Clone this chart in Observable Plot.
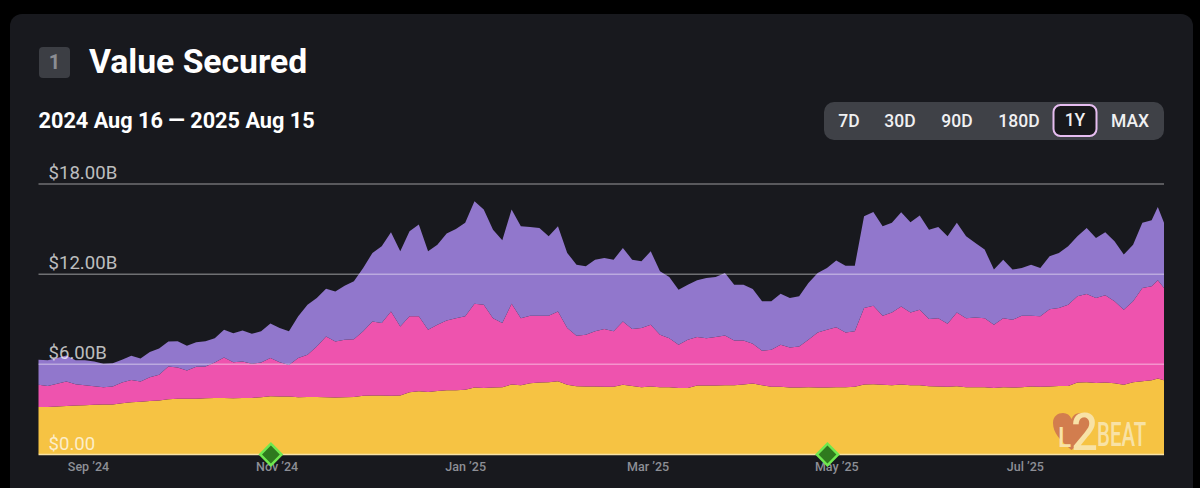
<!DOCTYPE html>
<html>
<head>
<meta charset="utf-8">
<script src="https://cdn.jsdelivr.net/npm/d3@7"></script>
<script src="https://cdn.jsdelivr.net/npm/@observablehq/plot@0.6"></script>
<style>
  html, body { margin: 0; background: #000; font-family: Roboto, sans-serif; overflow: hidden; }
  #card { position: absolute; left: 10px; top: 14px; width: 1183px; height: 474px; background: #18191e; border-radius: 12px 12px 0 0; }
  #badge { position: absolute; left: 29px; top: 33px; width: 31px; height: 31px; border-radius: 4px; background: #3c3e44; color: #8b8d93; font-size: 20px; font-weight: 700; line-height: 31px; text-align: center; }
  #title { position: absolute; left: 79px; top: 28px; color: #fff; font-size: 33.7px; font-weight: 700; line-height: 40px; white-space: nowrap; }
  #range { position: absolute; left: 28.5px; top: 93px; color: #fff; font-size: 21.7px; font-weight: 700; line-height: 28px; white-space: nowrap; }
  #buttons { position: absolute; left: 814px; top: 88px; width: 340px; height: 38px; background: #3f4147; border-radius: 10px; }
  #buttons span { position: absolute; top: 0; line-height: 38px; color: #f0f0f2; font-size: 17.5px; font-weight: 500; transform: translateX(-50%); white-space: nowrap; }
  #buttons span.on { top: 2px; height: 29px; line-height: 29px; width: 41px; text-align: center; background: #18181b; border: 2.5px solid #e6bdf0; border-radius: 8px; }
  #chart { position: absolute; left: 0; top: 160px; }
  #chart svg { display: block; overflow: visible; }
  #logo { position: absolute; left: 1040px; top: 400px; }
</style>
</head>
<body>
<div id="card">
  <div id="badge">1</div>
  <div id="title">Value Secured</div>
  <div id="range">2024 Aug 16 — 2025 Aug 15</div>
  <div id="buttons"></div>
</div>
<div id="chart"></div>
<svg id="logo" width="125" height="65" viewBox="0 0 125 65">
  <path d="M31.5 50 C20 40 13 33 13 23 C13 16 18 13 23 13 C27 13 30 15 31.5 19 C33 15 36 13 40 13 C45 13 50 16 50 23 C50 33 43 40 31.5 50 Z" fill="#d27d4e"/>
  <text transform="translate(18 47) scale(0.9 1)" font-family="Roboto" font-weight="500" fill="#f8e2a6"><tspan font-size="27">L</tspan><tspan font-size="52" dy="3">2</tspan></text>
  <text transform="translate(57 46) scale(0.62 1)" font-family="Roboto" font-weight="500" font-size="33" fill="#f8e2a6">BEAT</text>
</svg>
<script>
// days after 2024 Aug 16
const dayOffsets = [0,3,6,9,12,15,18,21,24,27,30,33,36,39,42,45,48,51,54,57,60,63,66,69,72,75,78,81,84,87,90,93,96,99,102,105,108,111,114,117,120,123,126,
  129,132,135,138,141,144,147,150,153,156,159,162,165,168,171,174,177,180,183,186,189,192,195,198,201,204,207,210,213,216,219,222,225,228,231,234,237,240,243,246,249,252,
  255,258,261,264,267,270,273,276,279,282,285,288,291,294,297,300,303,306,309,312,315,318,321,324,327,330,333,336,339,342,345,348,351,354,357,360,362,364]

// stacked tops in $B
const yellowTop = [3.13,3.13,3.16,3.20,3.22,3.24,3.27,3.29,3.29,3.38,3.44,3.47,3.53,3.56,3.64,3.67,3.67,3.67,3.71,3.73,3.73,3.71,3.73,3.73,3.78,3.84,3.82,3.82,3.78,3.80,3.80,3.78,3.76,3.78,3.80,3.87,3.89,3.89,3.87,3.89,4.11,4.18,4.13,
  4.20,4.24,4.24,4.27,4.42,4.40,4.42,4.44,4.62,4.58,4.71,4.76,4.78,4.84,4.60,4.51,4.49,4.49,4.47,4.47,4.60,4.53,4.44,4.49,4.44,4.44,4.40,4.40,4.56,4.56,4.56,4.58,4.58,4.62,4.69,4.58,4.47,4.47,4.42,4.42,4.44,4.42,
  4.42,4.44,4.44,4.47,4.62,4.64,4.60,4.58,4.62,4.58,4.58,4.51,4.49,4.47,4.51,4.44,4.44,4.44,4.40,4.44,4.42,4.44,4.49,4.47,4.49,4.53,4.53,4.76,4.78,4.73,4.76,4.71,4.60,4.78,4.84,4.91,5.02,4.91]

const pinkTop = [4.60,4.53,4.67,4.82,4.64,4.58,4.51,4.44,4.49,4.76,4.93,4.82,5.11,5.27,5.82,5.76,5.56,5.80,5.82,6.09,6.42,6.11,6.16,6.00,6.09,6.38,6.11,5.93,6.38,6.60,7.16,7.82,7.49,7.60,7.64,8.16,8.82,8.71,9.49,8.49,9.16,9.16,8.27,
  8.60,8.89,9.04,9.16,10.00,9.93,9.04,8.71,10.00,9.04,9.20,9.20,9.20,9.49,8.38,7.87,7.93,8.16,8.31,8.16,8.82,8.31,8.38,8.60,7.93,7.71,7.27,7.60,7.78,7.71,7.78,7.89,7.56,7.56,7.33,6.87,6.93,7.27,7.09,7.16,7.60,8.09,
  8.27,8.44,8.09,8.16,9.71,9.87,9.20,9.42,9.82,9.42,9.60,8.98,9.04,8.67,9.42,9.04,9.09,9.04,8.60,9.04,8.93,9.20,9.20,9.16,9.64,9.71,9.93,10.49,10.64,10.38,10.56,10.16,9.60,10.16,11.04,11.16,11.56,11.04]

const purpleTop = [6.27,6.24,6.38,6.56,6.24,6.24,6.16,6.00,6.04,6.27,6.53,6.36,6.78,7.02,7.49,7.51,7.20,7.44,7.51,7.71,8.27,8.04,8.22,8.00,8.16,8.69,8.38,8.16,9.16,9.93,10.38,11.00,10.82,11.20,11.49,12.38,13.38,13.82,14.76,13.49,14.82,15.27,13.49,
  13.93,14.67,14.98,15.38,16.82,16.27,14.93,14.22,16.27,15.16,15.11,15.04,14.49,15.16,13.38,12.60,12.49,12.93,13.04,12.93,13.71,12.93,12.82,13.49,12.16,11.78,10.93,11.27,11.56,11.71,11.78,12.04,11.27,11.27,10.98,10.16,10.16,10.67,10.38,10.49,11.38,12.04,
  12.38,12.87,12.53,12.53,15.82,16.11,15.16,15.38,16.09,15.42,15.87,14.93,15.11,14.49,15.38,14.49,14.04,13.60,12.27,12.93,12.27,12.38,12.60,12.38,13.16,13.38,13.82,14.49,15.04,14.38,14.76,14.16,13.27,13.93,15.38,15.56,16.44,15.38]

const yTicks = [6, 12, 18]
const yLabelTicks = [0, 6, 12, 18]
const yLabels = ['$0.00', '$6.00B', '$12.00B', '$18.00B']
const monthTicks = ['2024-09-01', '2024-11-01', '2025-01-01', '2025-03-01', '2025-05-01', '2025-07-01']
const monthLabels = ['Sep ’24', 'Nov ’24', 'Jan ’25', 'Mar ’25', 'May ’25', 'Jul ’25']
const markerDates = ['2024-10-30', '2025-04-28']
const rangeButtons = [['7D', 25], ['30D', 76], ['90D', 133], ['180D', 195], ['1Y', 251], ['MAX', 306]]

const start = new Date('2024-08-16')
const end = new Date('2025-08-15')
const rows = dayOffsets.map((d, i) => ({
  date: d3.utcDay.offset(start, d),
  yellow: yellowTop[i],
  pink: pinkTop[i],
  purple: purpleTop[i],
}))
const monthDates = monthTicks.map(d => new Date(d))

rangeButtons.forEach(([label, left]) => {
  d3.select('#buttons').append('span')
    .classed('on', label === '1Y')
    .style('left', left + 'px')
    .text(label)
})

let chart = Plot.plot({
  width: 1200,
  height: 328,
  marginTop: 23.5,
  marginBottom: 34,
  marginLeft: 38.5,
  marginRight: 36,
  style: { background: 'transparent', fontFamily: 'Roboto, sans-serif' },
  x: { type: 'utc', domain: [start, end] },
  y: { domain: [0, 18], axis: null },
  marks: [
    Plot.areaY(rows, { x: 'date', y1: 0, y2: 'yellow', fill: '#f6c343' }),
    Plot.areaY(rows, { x: 'date', y1: 'yellow', y2: 'pink', fill: '#ee53ae' }),
    Plot.areaY(rows, { x: 'date', y1: 'pink', y2: 'purple', fill: '#9177cc' }),
    Plot.ruleY(yTicks, { stroke: '#fff', strokeOpacity: 0.38, strokeWidth: 1.5 }),
    Plot.ruleY([0], { stroke: '#f8e2a6', strokeWidth: 1.5 }),
    Plot.text(yLabelTicks, {
      x: start,
      y: d => d,
      text: (d, i) => yLabels[i],
      textAnchor: 'start',
      lineAnchor: 'bottom',
      dx: 9.5,
      dy: -5,
      fontSize: 18.6,
      fill: '#fff',
      fillOpacity: 0.72,
    }),
    Plot.axisX({
      ticks: monthDates,
      tickFormat: d => monthLabels[monthDates.findIndex(m => +m === +d)],
      tickSize: 0,
      tickPadding: 8,
      fontSize: 12.5,
      fontWeight: 500,
      color: '#8d8f96',
      label: null,
    }),
    Plot.dot(markerDates.map(d => new Date(d)), {
      x: d => d,
      y: 0,
      symbol: 'square',
      rotate: 45,
      r: 8.5,
      fill: '#2f7a1e',
      stroke: '#6fe84f',
      strokeWidth: 2.5,
    }),
  ],
})
d3.select('#chart').append(() => chart)
</script>
</body>
</html>
